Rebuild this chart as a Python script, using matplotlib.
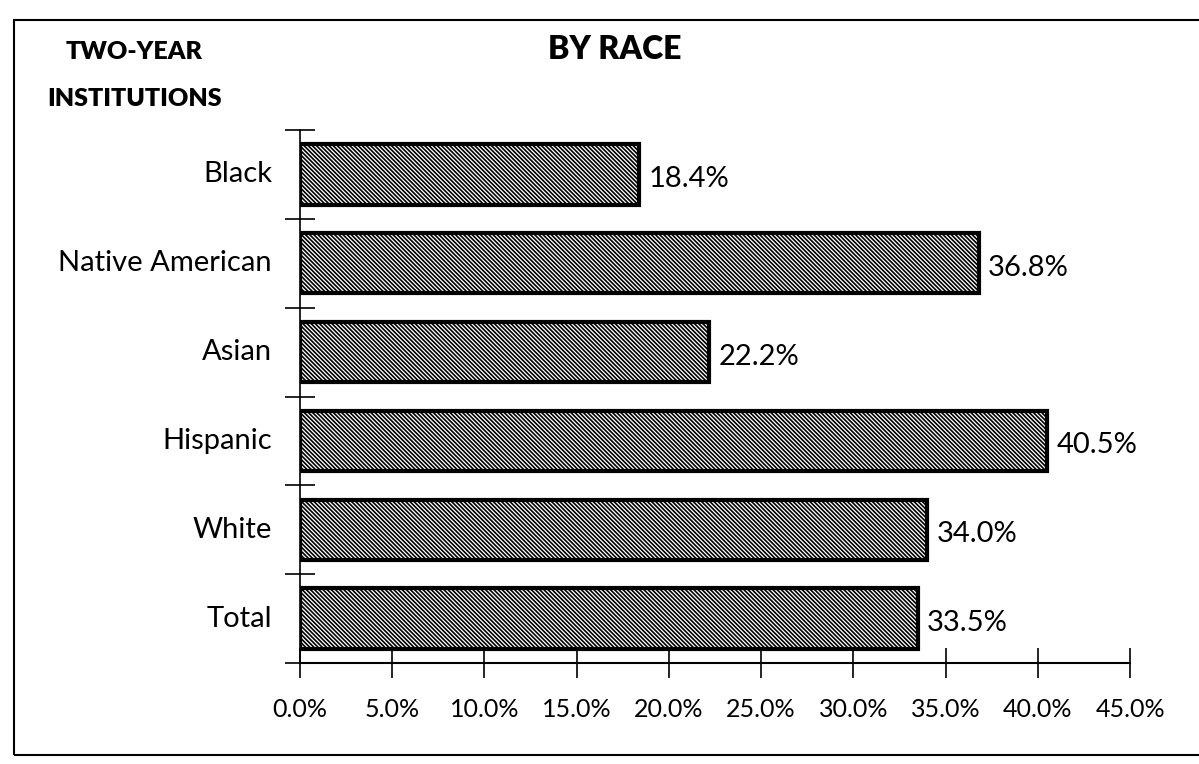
import matplotlib.pyplot as plt
from matplotlib.patches import Rectangle
import numpy as np

plt.rcParams['font.family'] = ['Lato', 'DejaVu Sans']
plt.rcParams['hatch.linewidth'] = 1.2

categories = ["Black", "Native American", "Asian", "Hispanic", "White", "Total"]
values = [18.4, 36.8, 22.2, 40.5, 34.0, 33.5]
xticks = [0, 5, 10, 15, 20, 25, 30, 35, 40, 45]

fig = plt.figure(figsize=(11.99, 7.64), dpi=100)
ax = fig.add_axes([0.250, 0.132, 0.6925, 0.698])

n = len(categories)
ypos = np.arange(n)[::-1] + 0.5
ax.barh(ypos, values, height=0.68, color="white", edgecolor="black",
        linewidth=3, hatch="\\" * 8)

for y, v in zip(ypos, values):
    ax.text(v + 0.5, y - 0.05, f"{v:.1f}%", va="center", ha="left", fontsize=21)

ax.set_xlim(0, 45)
ax.set_ylim(0, n)
ax.set_xticks(xticks)
ax.set_xticklabels([f"{t:.1f}%" for t in xticks], fontsize=18)
ax.set_yticks(np.arange(n + 1))
ax.set_yticklabels([])
ax.tick_params(axis="x", direction="inout", length=22, width=1.2, pad=14)
ax.tick_params(axis="y", direction="inout", length=22, width=1.2)
for y, c in zip(ypos, categories):
    ax.text(-1.5, y, c, ha="right", va="center", fontsize=21)

for s in ["top", "right"]:
    ax.spines[s].set_visible(False)
ax.spines["left"].set_linewidth(1.2)
ax.spines["bottom"].set_linewidth(1.5)

fig.text(0.513, 0.935, "BY RACE", ha="center", va="center", fontsize=23, fontweight="heavy")
fig.text(0.112, 0.932, "TWO-YEAR", ha="center", va="center", fontsize=18, fontweight="heavy")
fig.text(0.112, 0.87, "INSTITUTIONS", ha="center", va="center", fontsize=18, fontweight="heavy")

fig.patches.append(Rectangle((0.012, 0.012), 1.1, 0.962, transform=fig.transFigure,
                             fill=False, edgecolor="black", linewidth=1.5))

fig.savefig("out.png", dpi=100)
